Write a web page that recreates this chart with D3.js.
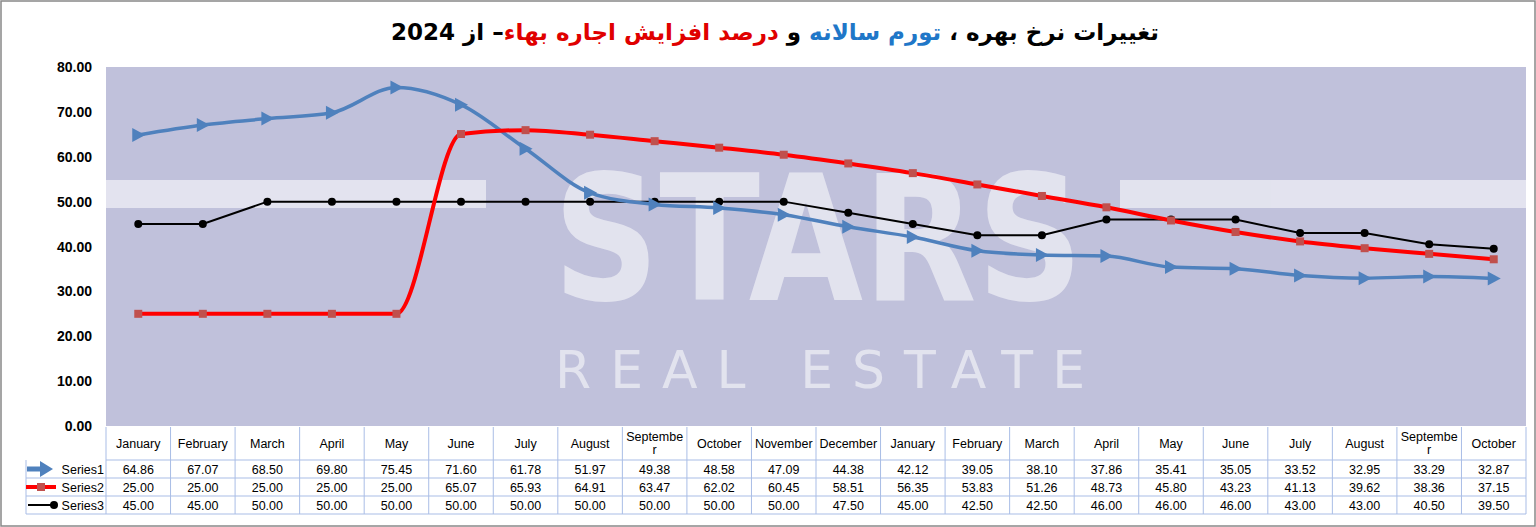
<!DOCTYPE html>
<html><head><meta charset="utf-8">
<script src="https://cdn.jsdelivr.net/npm/d3@7"></script>
<style>body{margin:0;background:#fff}svg{display:block}</style>
</head><body>
<svg id="c" width="1536" height="527"></svg>
<script>
const categories=["January","February","March","April","May","June","July","August","September","October","November","December","January","February","March","April","May","June","July","August","September","October"];
const series1=[64.86,67.07,68.50,69.80,75.45,71.60,61.78,51.97,49.38,48.58,47.09,44.38,42.12,39.05,38.10,37.86,35.41,35.05,33.52,32.95,33.29,32.87];
const series2=[25,25,25,25,25,65.07,65.93,64.91,63.47,62.02,60.45,58.51,56.35,53.83,51.26,48.73,45.80,43.23,41.13,39.62,38.36,37.15];
const series3=[45,45,50,50,50,50,50,50,50,50,50,47.5,45,42.5,42.5,46,46,46,43,43,40.5,39.5];
const seriesNames=["Series1","Series2","Series3"];
const yTicks=[0,10,20,30,40,50,60,70,80];

const svg=d3.select("#c");
const L=106,R=1526,T=67,B=426;
svg.append("rect").attr("x",1).attr("y",1).attr("width",1534).attr("height",525).attr("fill","#fff").attr("stroke","#888").attr("stroke-width",1.5);
const t=svg.append("text").attr("x",775).attr("y",40).attr("text-anchor","middle").attr("direction","rtl")
 .attr("font-family","DejaVu Sans, Noto Sans").attr("font-weight","bold").attr("font-size",23);
[["تغییرات نرخ بهره ،","#000"],[" تورم سالانه","#1f77c8"],[" و ","#000"],["درصد افزایش اجاره بهاء","#e00000"],["– از 2024","#000"]]
 .forEach(([s,c])=>t.append("tspan").attr("fill",c).text(s));

const x=d3.scaleBand().domain(d3.range(categories.length)).range([L,R]);
const y=d3.scaleLinear().domain([0,80]).range([B,T]);
svg.append("rect").attr("x",L).attr("y",T).attr("width",R-L).attr("height",B-T).attr("fill","#c0c1db");
const wm=svg.append("g").attr("fill","#fff").attr("opacity",0.55).attr("font-family","DejaVu Sans").attr("font-weight","bold");
wm.append("rect").attr("x",L).attr("y",180).attr("width",380).attr("height",28);
wm.append("rect").attr("x",1120).attr("y",180).attr("width",406).attr("height",28);
wm.append("text").attr("x",818).attr("y",300).attr("text-anchor","middle").attr("font-size",175).attr("textLength",530).attr("lengthAdjust","spacingAndGlyphs").text("STARS");
wm.append("text").attr("x",555).attr("y",388).attr("font-size",52).attr("font-weight","normal").attr("textLength",530).text("REAL ESTATE");

svg.append("g").selectAll("text").data(yTicks).join("text").attr("x",92).attr("y",d=>y(d)+5)
 .attr("text-anchor","end").attr("font-family","Liberation Sans, Arial").attr("font-weight","bold").attr("font-size",14).text(d=>d.toFixed(2));

const cx=i=>x(i)+x.bandwidth()/2;
svg.append("path").attr("d",d3.line().x((v,i)=>cx(i)).y(v=>y(v))(series3)).attr("fill","none").attr("stroke","#000").attr("stroke-width",2);
svg.append("g").selectAll("circle").data(series3).join("circle").attr("cx",(d,i)=>cx(i)).attr("cy",d=>y(d)).attr("r",4).attr("fill","#000");
svg.append("path").attr("d",d3.line().curve(d3.curveMonotoneX).x((v,i)=>cx(i)).y(v=>y(v))(series1)).attr("fill","none").attr("stroke","#4f81bd").attr("stroke-width",3.5);
svg.append("g").selectAll("path").data(series1).join("path")
 .attr("d",(d,i)=>`M${cx(i)+7},${y(d)} L${cx(i)-6},${y(d)-7} L${cx(i)-6},${y(d)+7}Z`).attr("fill","#4f81bd");
svg.append("path").attr("d",d3.line().curve(d3.curveMonotoneX).x((v,i)=>cx(i)).y(v=>y(v))(series2)).attr("fill","none").attr("stroke","#ff0000").attr("stroke-width",4);
svg.append("g").selectAll("rect").data(series2).join("rect").attr("x",(d,i)=>cx(i)-4).attr("y",d=>y(d)-4).attr("width",8).attr("height",8).attr("fill","#c0504d");

const grid="#a9bde6";
const rowsY=[427,460,478,496,514];
const g=svg.append("g").attr("font-family","Liberation Sans, Arial").attr("font-size",12.5);
g.append("line").attr("x1",L).attr("x2",R).attr("y1",460).attr("y2",460).attr("stroke",grid);
[478,496,514].forEach(yy=>g.append("line").attr("x1",26).attr("x2",R).attr("y1",yy).attr("y2",yy).attr("stroke",grid));
g.append("line").attr("x1",26).attr("x2",26).attr("y1",460).attr("y2",514).attr("stroke",grid);
d3.range(categories.length+1).forEach(i=>{const xx=i<categories.length?x(i):R;
 g.append("line").attr("x1",xx).attr("x2",xx).attr("y1",427).attr("y2",514).attr("stroke",grid);});
categories.forEach((c,i)=>{
 if(c==="September"){const tt=g.append("text").attr("x",cx(i)).attr("y",441).attr("text-anchor","middle");
  tt.append("tspan").attr("x",cx(i)).text("Septembe");tt.append("tspan").attr("x",cx(i)).attr("dy",13).text("r");}
 else g.append("text").attr("x",cx(i)).attr("y",448).attr("text-anchor","middle").text(c);
});
[series1,series2,series3].forEach((s,r)=>{
 s.forEach((v,i)=>g.append("text").attr("x",cx(i)).attr("y",rowsY[r+1]+14).attr("text-anchor","middle").text(v.toFixed(2)));
 g.append("text").attr("x",104).attr("y",rowsY[r+1]+14).attr("text-anchor","end").text(seriesNames[r]);
});
const ly=i=>rowsY[i+1]+9;
g.append("line").attr("x1",27).attr("x2",42).attr("y1",ly(0)).attr("y2",ly(0)).attr("stroke","#4f81bd").attr("stroke-width",5);
g.append("path").attr("d",`M53,${ly(0)} L40,${ly(0)-8} L40,${ly(0)+8}Z`).attr("fill","#4f81bd");
g.append("line").attr("x1",26).attr("x2",56).attr("y1",ly(1)).attr("y2",ly(1)).attr("stroke","#ff0000").attr("stroke-width",4);
g.append("rect").attr("x",37).attr("y",ly(1)-4).attr("width",8).attr("height",8).attr("fill","#c0504d");
g.append("line").attr("x1",28).attr("x2",54).attr("y1",ly(2)).attr("y2",ly(2)).attr("stroke","#000").attr("stroke-width",2);
g.append("circle").attr("cx",54).attr("cy",ly(2)).attr("r",4).attr("fill","#000");
</script></body></html>
